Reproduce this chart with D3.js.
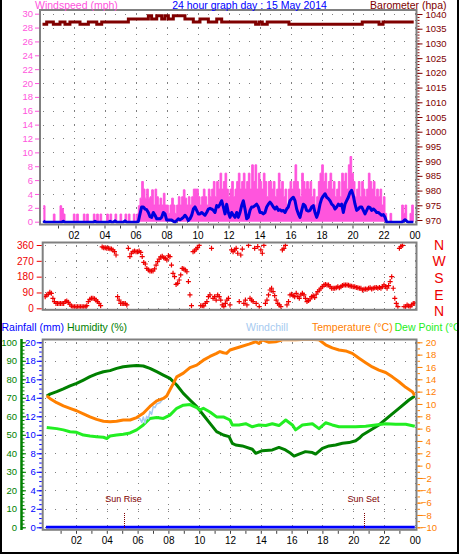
<!DOCTYPE html>
<html><head><meta charset="utf-8">
<script src="https://cdn.jsdelivr.net/npm/d3@7"></script>
<style>
html,body{margin:0;padding:0;background:#fff;}
svg{display:block;font-family:"Liberation Sans",Arial,sans-serif;}
</style></head><body>
<svg id="c" width="459" height="555"></svg>
<script>
// ---------------- DATA ----------------
const titleText = "24 hour graph day : 15 May 2014";
const xTickHours = [2,4,6,8,10,12,14,16,18,20,22,24];
const xTickLabels = ["02","04","06","08","10","12","14","16","18","20","22","00"];
const windTicks = [0,2,4,6,8,10,12,14,16,18,20,22,24,26,28,30];
const baroTicks = [970,975,980,985,990,995,1000,1005,1010,1015,1020,1025,1030,1035,1040];
const dirTicks = [0,90,180,270,360];
const compassLabels = ["N","W","S","E","N"];
const rainTicks = [0,2,4,6,8,10,12,14,16,18,20];
const humTicks = [0,10,20,30,40,50,60,70,80,90,100];
const tempTicks = [-10,-8,-6,-4,-2,0,2,4,6,8,10,12,14,16,18,20];

// wind samples (mph), one every 6.45 minutes starting at 00:03
const windStartHour = 0.054, windStepHours = 0.10753;
const gustNight = [2.3,0,0,0,0,0,1.1,0,0,0, 2.3,1.9,1.1,0,0,0,0,0,1.1,0, 1.1,0,0,0,1.1,0,1.1,0,0,0,
  1.1,0,1.1,0,1.1,0,0,0,1.1,0, 1.1,0,0,1.1,0,0,1.1,0,0,1.1, 0,1.1];
const gustMorning = [0,0,1.1,0,1.1,2.3,3.4,5.8,4.7,3.4, 4.7,3.4,3.6,4.6,2.4,4.7,3.6,2.4,3.4,2.4,
  4.1,2.4,2.4,1.2,2.4,3.4,2.4,1.2,2.4,3.6, 2.4,3.6,4.6,3.4,2.4,3.6,2.4,3.6,4.7,4.7,
  4.7,3.6,2.4,3.6,4.7,3.6,2.4,4.7,3.6,4.7, 5.8,3.6,5.8,4.7,7.0,4.7,5.8,7.0,4.7,3.6,
  4.7,5.8,3.6,4.7,5.8,7.0,4.7,5.8,7.0,4.7, 5.8,7.0,4.7,8.2,5.8,8.2,4.7,7.0,5.8,4.7, 7.0,5.8,3.6,5.8];
const gustAfternoon = [5.8,4.7,5.8,3.6,4.7,7.0,4.7,5.8,3.6,4.7, 2.4,4.7,5.8,4.7,5.8,8.2,5.8,4.7,3.6,7.0,
  5.8,4.7,5.8,4.7,5.8,3.6,4.7,2.4,3.6,5.8, 7.0,8.2,5.8,7.0,4.7,5.8,7.0,4.7,5.8,3.6,
  4.7,5.8,3.6,7.0,5.8,7.0,4.7,8.2,9.4,7.0, 5.8,3.6,4.7,5.8,3.6,5.8,4.7,3.6,4.7,7.0,
  5.8,4.7,5.8,3.6,4.7,3.6,4.7,2.4,3.6,1.2, 0,0,1.2,0,0,0,0,0,0,2.4, 1.2,2.4,0,0,1.2,2.4,0];
const avgNight = [0.2,0,0,0,0,0,0,0,0,0, 0,0,0.15,0,0,0,0,0,0,0, 0,0,0,0,0,0,0,0,0,0,
  0,0.15,0,0,0,0,0,0,0,0, 0.15,0,0,0.2,0,0,0,0,0,0.2, 0,0];
const avgMorning = [0,0,0,0,0,0.1,1.2,2.2,2.2,1.9, 1.8,1.4,0.8,0.7,1.4,1.0,0.5,0.5,0.5,0.7,
  1.4,1.2,0.3,0.3,0.3,0.3,0.15,0,0.25,0.5, 0.35,0.5,0.7,1.0,0.7,0.25,0.5,1.0,1.9,2.2,
  1.7,1.2,1.2,1.4,1.2,1.0,1.4,1.9,2.0,1.9, 1.7,1.4,2.4,2.2,2.6,3.1,2.2,1.2,2.6,1.4,
  0.7,1.4,1.0,0.7,1.4,0.7,1.4,2.4,3.1,1.9, 0.5,0.7,1.7,2.2,2.2,2.4,2.6,2.2,1.4,1.4, 1.2,1.4,2.2,2.6];
const avgAfternoon = [2.9,2.6,2.2,1.9,2.2,1.7,1.8,1.6,1.7,1.4, 1.9,2.2,3.1,3.4,3.6,3.1,1.9,1.2,0.7,1.7,
  2.6,2.4,1.7,1.6,1.7,2.2,2.4,1.4,0.7,1.4, 2.6,3.4,3.8,4.1,3.6,3.4,3.1,2.6,2.4,1.9,
  2.2,2.6,2.4,2.6,1.4,2.6,3.1,3.6,4.3,4.6, 3.8,2.6,1.7,1.9,2.2,2.2,1.7,1.2,1.7,2.2,
  2.1,1.7,1.9,1.7,1.4,1.4,1.2,1.0,1.1,0.7, 0,0,0,0,0,0,0,0,0,0, 0.15,0.35,0.15,0,0,0,0];

// barometer (hPa) step changes
const baroHours = [0,0.27,0.70,1.13,1.45,1.77,2.42,2.96,3.5,3.82,5.54,6.83,7.04,7.37,7.69,7.9,8.12,8.44,9.19,9.73,
  10.16,10.7,11.24,11.56,13.75,13.97,14.18,14.5,15.9,20.63,21.71,21.97,23.95];
const baroValues = [1036.5,1037.3,1036.5,1037.3,1036.5,1037.3,1036.5,1037.3,1036.5,1037.3,1038.3,1039.4,1038.3,1039.4,1038.3,1039.4,1038.3,1039.4,1038.3,1037.3,
  1038.3,1037.3,1038.3,1037.3,1036.5,1037.3,1036.5,1037.3,1036.5,1037.3,1036.5,1037.3,1037.3];

// wind direction (degrees), one sample every 6 minutes from 00:00
const dirStepHours = 0.1;
const dirValues = [66,76,80,91,85,57,38,28,28,28, 28,28,28,38,42,34,23,13,9,9,
  9,9,9,9,9,9,9,15,38,51, 57,57,55,47,38,28,15,349,345,345,
  341,341,339,337,332,322,303,66,47,28, 28,28,27,19,341,294,313,322,326,322,
  322,326,318,294,261,252,227,218,212,212, 212,224,246,265,280,292,296,288,284,275,
  299,294,246,199,180,136,142,161,190,227, 224,218,208,152,76,15,322,326,337,345,
  358,15,15,13,28,38,66,76,341,57, 66,47,76,66,47,19,9,28,47,57,
  19,332,322,332,341,313,38,303,337,28, 47,19,358,57,47,38,341,28,351,9,
  332,313,358,28,47,76,104,114,95,72, 47,28,19,9,332,341,358,19,38,76,
  80,72,66,85,66,57,76,85,76,57, 38,44,53,66,72,61,80,95,104,114,
  123,133,136,133,133,123,114,114,114,117, 123,117,123,129,133,133,133,131,127,125,
  123,123,119,117,114,114,104,108,110,108, 114,117,110,114,117,119,114,119,114,123,
  133,123,114,129,152,180,114,57,28,9, 341,351,358,9,9,19,13,9,19,28, 28];

// bottom panel
const tempHours = [0.1,0.3,0.75,1.18,1.61,2.04,2.48,2.91,3.34,3.78,4.21,4.64,5.07,5.51,5.94,6.37,6.8,7.24,7.67,7.89,
  8.1,8.32,8.54,8.97,9.4,9.84,10.27,10.7,11.13,11.35,11.57,11.78,12.0,12.58,13.23,13.67,13.88,14.1,14.53,14.97,
  15.4,16.26,17.13,17.78,18.21,18.64,19.08,19.51,19.94,20.38,20.81,21.24,21.67,22.11,22.54,22.97,23.41,23.84,24.0];
const tempValues = [11.3,10.9,10.2,9.7,9.3,8.9,8.4,7.9,7.5,7.2,7.1,7.2,7.4,7.4,7.8,8.5,9.6,10.5,10.9,11.3,
  12.3,13.3,14.4,15.0,15.9,16.3,17.1,17.7,18.2,18.5,18.3,18.2,18.75,19.2,19.7,20.1,19.8,20.4,20.0,20.1,
  20.4,20.4,20.5,20.4,19.6,19.1,18.75,18.6,18.2,17.4,16.7,16.0,15.5,15.1,14.4,13.6,12.7,12.0,11.4];
const humHours = [0.1,0.31,0.75,1.18,1.61,2.04,2.48,2.91,3.34,3.78,4.21,4.64,5.07,5.51,5.94,6.37,6.8,7.24,7.67,8.1,
  8.54,8.97,9.4,9.84,10.27,10.7,11.13,11.57,11.94,12.15,12.37,12.8,13.45,13.67,14.1,14.75,15.18,15.6,15.94,16.16,
  16.48,16.9,17.35,17.56,18.0,18.43,18.86,19.3,19.73,20.16,20.38,20.6,21.03,21.67,22.32,22.97,23.62,24.0];
const humValues = [71,72,73.3,74.8,76.4,77.8,79.6,81.4,82.9,84.1,84.7,85.9,86.8,87.2,87.4,87.2,85.9,84.1,82.3,80.5,
  76.9,72.4,68.8,65.2,60.7,56.2,51.7,49.9,49.0,45.4,44.5,44,42.2,40,41.4,41.8,43.2,41.8,40,38.5,
  39.6,40.9,40.4,39.6,42.7,44,44.5,45.4,45.8,46.8,48.1,49.9,52.1,55.3,59.8,64.3,68.8,71];
const dewHours = [0.1,0.75,1.18,1.61,2.04,2.48,2.91,3.34,3.78,4.0,4.21,4.64,5.07,5.51,5.94,6.37,6.8,7.24,7.67,8.1,
  8.54,8.97,9.4,9.84,10.05,10.27,10.7,11.13,11.57,12.0,12.15,12.58,13.02,13.45,13.88,14.32,14.75,15.18,15.62,16.05,
  16.26,16.7,17.35,17.78,18.21,18.64,19.08,19.51,20.16,20.81,21.46,22.11,22.76,23.41,24.0];
const dewValues = [6.2,6.0,5.8,5.5,5.4,4.95,4.8,4.7,4.6,4.4,4.8,4.95,5.1,5.3,5.8,6.6,7.65,7.8,7.65,8.2,
  9.3,9.8,9.9,9.4,9.0,9.3,8.7,7.9,7.9,7.4,6.6,6.6,6.8,6.3,6.6,6.5,6.8,6.5,7.4,6.6,
  5.8,6.6,6.8,6.0,6.95,6.6,6.3,6.3,6.3,6.4,6.6,6.8,6.7,6.7,6.4];
const chillHours = [5.94,6.16,6.27,6.37,6.48,6.59,6.7,6.8,6.91,7.02,7.13,7.24,7.45,7.67];
const chillValues = [7.8,7.6,7.0,7.9,6.9,8.0,7.6,8.8,8.3,9.6,9.4,10.0,10.2,10.9];
const rainHours = [0.05,24];
const rainValues = [0,0];
const sunEvents = [{label:"Sun Rise", hour:5.12},{label:"Sun Set", hour:20.72}];

// ---------------- DRAWING ----------------
const svg = d3.select("#c");
const GRID = "#808080", FRAME = "#808080";
const cPink = "#ff55dd", cBlue = "#0000dd", cBaro = "#800000", cDir = "#ee0000";
const cRain = "#0000ff", cHum = "#008000", cChill = "#a6caf0", cTemp = "#ff8000", cDew = "#22ee22";

const xTop = d3.scaleLinear().domain([0,24]).range([42.5,414.5]);
const xLow = d3.scaleLinear().domain([0,24]).range([45.2,414.8]);
const yWind = d3.scaleLinear().domain([0,30]).range([221.7,13.7]);
const yBaro = d3.scaleLinear().domain([970,1040]).range([220,14]);
const yDir = d3.scaleLinear().domain([0,360]).range([308.3,245]);
const yRain = d3.scaleLinear().domain([0,20]).range([527.3,342.3]);
const yHum = d3.scaleLinear().domain([0,100]).range([527.3,342.3]);
const yTemp = d3.scaleLinear().domain([-10,20]).range([527.3,342.3]);

const panels = {
  top: {x0:40, x1:416.5, y0:10, y1:224.5},
  mid: {x0:42.7, x1:416.5, y0:242.5, y1:309.8},
  low: {x0:42.7, x1:416.5, y0:339.5, y1:529.8}
};

function dots(g, pts){
  g.selectAll(null).data(pts).join("rect")
    .attr("x", d => Math.round(d[0])).attr("y", d => Math.round(d[1]))
    .attr("width",1).attr("height",1).attr("fill",GRID);
}
function grid(p, xs, xFn, ys, yVStep){
  const g = svg.append("g");
  const pts = [];
  const hx = d3.range(0, 37).map(k => xFn(k*2/3)).filter(x => x > p.x0+1 && x < p.x1-1);
  ys.forEach(y => hx.forEach(x => pts.push([x,y])));
  const vy = d3.range(p.y0+3, p.y1-1, yVStep);
  xs.forEach(x => vy.forEach(y => pts.push([x,y])));
  dots(g, pts);
}
// grids
grid(panels.top, xTickHours.map(h => xTop(h)), xTop, windTicks.map(v => yWind(v)), yWind(0)-yWind(1));
grid(panels.mid, xTickHours.map(h => xLow(h)), xLow, dirTicks.map(v => yDir(v)), 7);
grid(panels.low, xTickHours.map(h => xLow(h)), xLow, rainTicks.map(v => yRain(v)), 7);

// clips
Object.entries(panels).forEach(([k,p]) => {
  svg.append("clipPath").attr("id","clip-"+k).append("rect")
    .attr("x",p.x0+1).attr("y",p.y0+1).attr("width",p.x1-p.x0-2).attr("height",p.y1-p.y0-2);
});

// ---- top panel data
const gust = gustNight.concat(gustMorning, gustAfternoon);
const avg = avgNight.concat(avgMorning, avgAfternoon);
const windT = gust.map((_,i) => windStartHour + i*windStepHours);
const gTop = svg.append("g").attr("clip-path","url(#clip-top)");
gTop.append("path").datum(gust)
  .attr("d", d3.area().x((d,i)=>xTop(windT[i])).y0(yWind(0)).y1(d=>yWind(d)).curve(d3.curveStepAfter))
  .attr("fill", cPink);
gTop.append("path").datum(gust)
  .attr("d", d3.line().x((d,i)=>xTop(windT[i])).y(d=>yWind(d)).curve(d3.curveStepAfter))
  .attr("fill","none").attr("stroke",cPink).attr("stroke-width",1);
gTop.append("path").datum(avg)
  .attr("d", d3.line().x((d,i)=>xTop(windT[i])).y(d=>yWind(d)+0.5))
  .attr("fill","none").attr("stroke",cBlue).attr("stroke-width",3).attr("stroke-linejoin","round");
gTop.append("path").datum(baroValues)
  .attr("d", d3.line().x((d,i)=>xTop(baroHours[i])).y(d=>yBaro(d)).curve(d3.curveStepAfter))
  .attr("fill","none").attr("stroke",cBaro).attr("stroke-width",3);

// ---- middle panel data
const gMid = svg.append("g").attr("clip-path","url(#clip-mid)");
gMid.selectAll(null).data(dirValues).join("path")
  .attr("transform",(d,i)=>`translate(${xLow(i*dirStepHours)},${yDir(d)})`)
  .attr("d","M-2.5,0H2.5M0,-2.5V2.5")
  .attr("stroke",cDir).attr("stroke-width",1.2).attr("fill","none");

// ---- bottom panel data
const gLow = svg.append("g").attr("clip-path","url(#clip-low)");
function series(hours, vals, y, color, w){
  gLow.append("path").datum(vals)
    .attr("d", d3.line().x((d,i)=>xLow(hours[i])).y(d=>y(d)))
    .attr("fill","none").attr("stroke",color).attr("stroke-width",w).attr("stroke-linejoin","round");
}
series(humHours, humValues, yHum, cHum, 3);
series(dewHours, dewValues, yTemp, cDew, 3);
series(chillHours, chillValues, yTemp, cChill, 1.5);
series(tempHours, tempValues, yTemp, cTemp, 3);
series(rainHours, rainValues, yRain, cRain, 3);

// sun events
sunEvents.forEach(s => {
  const x = Math.round(xLow(s.hour)) + 0.5;
  svg.append("line").attr("x1",x).attr("x2",x).attr("y1",513).attr("y2",529)
    .attr("stroke","#800000").attr("stroke-width",1).attr("stroke-dasharray","1,1");
  svg.append("text").attr("x",x-1).attr("y",501.5).attr("text-anchor","middle")
    .attr("font-size","9px").attr("fill","#800000").text(s.label);
});

// frames
Object.values(panels).forEach(p => {
  svg.append("rect").attr("x",p.x0).attr("y",p.y0).attr("width",p.x1-p.x0).attr("height",p.y1-p.y0)
    .attr("fill","none").attr("stroke",FRAME).attr("stroke-width",2);
});

// ---- axes
function styleAxis(g, color, size){
  g.select(".domain").remove();
  g.selectAll("line").attr("stroke",color);
  g.selectAll("text").attr("fill",color).attr("font-size",size)
    .attr("font-family",'"Liberation Sans",Arial,sans-serif');
}
// top left: windspeed
styleAxis(svg.append("g").attr("transform","translate(39,0)")
  .call(d3.axisLeft(yWind).tickValues(windTicks).tickSize(4).tickPadding(2).tickFormat(d3.format("d"))), cPink, "9.5px");
// top right: barometer
styleAxis(svg.append("g").attr("transform","translate(417.5,0)")
  .call(d3.axisRight(yBaro).tickValues(d3.range(970,1041,1)).tickSize(2).tickFormat("")), cBaro, "9.5px");
styleAxis(svg.append("g").attr("transform","translate(417.5,0)")
  .call(d3.axisRight(yBaro).tickValues(baroTicks).tickSize(5).tickPadding(3).tickFormat(d3.format("d"))), cBaro, "9.5px");
// top x axis
styleAxis(svg.append("g").attr("transform",`translate(0,${panels.top.y1+1})`)
  .call(d3.axisBottom(xTop).tickValues(d3.range(1,24)).tickSize(3).tickFormat("")), "#404040", "10px");
styleAxis(svg.append("g").attr("transform",`translate(0,${panels.top.y1+1})`)
  .call(d3.axisBottom(xTop).tickValues(xTickHours).tickSize(0).tickPadding(6)
  .tickFormat((d,i)=>xTickLabels[i])), "#000", "10px");
// middle left: direction
styleAxis(svg.append("g").attr("transform","translate(41.7,0)")
  .call(d3.axisLeft(yDir).tickValues(dirTicks).tickSize(5).tickPadding(3).tickFormat(d3.format("d"))), cDir, "10px");
// compass letters
const compassY = [245,261,278,295,311];
svg.append("g").selectAll("text").data(compassLabels).join("text")
  .attr("x",439).attr("y",(d,i)=>compassY[i]).attr("dy","0.36em").attr("text-anchor","middle")
  .attr("font-size","14px").attr("fill",cDir).text(d=>d);
// bottom left: rainfall
styleAxis(svg.append("g").attr("transform","translate(41.7,0)")
  .call(d3.axisLeft(yRain).tickValues(d3.range(0,20.01,0.5)).tickSize(2.5).tickFormat("")), cRain, "9.5px");
styleAxis(svg.append("g").attr("transform","translate(41.7,0)")
  .call(d3.axisLeft(yRain).tickValues(rainTicks).tickSize(5).tickPadding(1).tickFormat(d3.format("d"))), cRain, "9.5px");
// humidity axis
svg.append("line").attr("x1",21.5).attr("x2",21.5).attr("y1",339).attr("y2",530)
  .attr("stroke",cHum).attr("stroke-width",2.5);
styleAxis(svg.append("g").attr("transform","translate(22,0)")
  .call(d3.axisLeft(yHum).tickValues(d3.range(0,101,2)).tickSizeInner(-2.5).tickSizeOuter(0).tickFormat("")), cHum, "9.5px");
styleAxis(svg.append("g").attr("transform","translate(22,0)")
  .call(d3.axisLeft(yHum).tickValues(humTicks).tickSizeInner(-4).tickSizeOuter(0).tickPadding(5).tickFormat(d3.format("d"))), cHum, "9.5px");
// right: temperature
styleAxis(svg.append("g").attr("transform","translate(417.5,0)")
  .call(d3.axisRight(yTemp).tickValues(d3.range(-10,20.01,1)).tickSize(2.5).tickFormat("")), cTemp, "9.5px");
const tAx = svg.append("g").attr("transform","translate(417.5,0)")
  .call(d3.axisRight(yTemp).tickValues(tempTicks).tickSize(5).tickFormat(d3.format("d")));
styleAxis(tAx, cTemp, "9.5px");
tAx.selectAll("text").attr("x", d => d < 0 ? 3.5 : 8.2);
// bottom x axis
styleAxis(svg.append("g").attr("transform",`translate(0,${panels.low.y1+1})`)
  .call(d3.axisBottom(xLow).tickValues(d3.range(1,24)).tickSize(3).tickFormat("")), "#404040", "10px");
styleAxis(svg.append("g").attr("transform",`translate(0,${panels.low.y1+1})`)
  .call(d3.axisBottom(xLow).tickValues(xTickHours).tickSize(0).tickPadding(6)
  .tickFormat((d,i)=>xTickLabels[i])), "#000", "10px");

// ---- headers
function header(x, y, txt, color, anchor){
  svg.append("text").attr("x",x).attr("y",y).attr("text-anchor",anchor||"start")
    .attr("font-size","10.5px").attr("fill",color).text(txt);
}
header(35, 8.5, "Windspeed (mph)", cPink);
header(249.5, 8.5, titleText, "#0000ff", "middle");
header(446.5, 8.5, "Barometer (hpa)", cBaro, "end");
header(1.5, 331, "Rainfall (mm)", cRain);
header(67, 331, "Humidity (%)", cHum);
header(246, 331, "Windchill", cChill);
header(312, 331, "Temperature (°C)", cTemp);
header(394.5, 331, "Dew Point (°C)", cDew);

// outer border
svg.append("rect").attr("x",0).attr("y",0).attr("width",2).attr("height",554).attr("fill","#000");
svg.append("rect").attr("x",457).attr("y",0).attr("width",2).attr("height",554).attr("fill","#000");
svg.append("rect").attr("x",0).attr("y",552).attr("width",459).attr("height",2).attr("fill","#000");
</script>
</body></html>
